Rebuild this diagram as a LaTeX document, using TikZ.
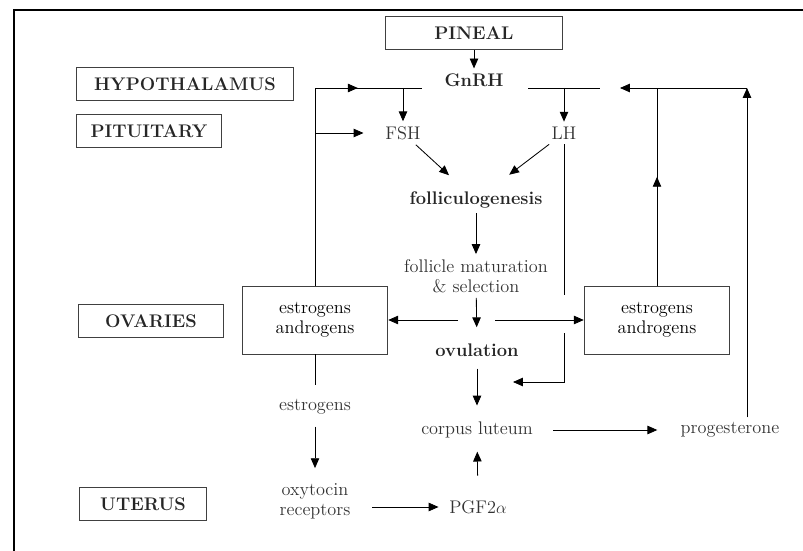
\documentclass[tikz,border=0pt]{standalone}
\usetikzlibrary{arrows.meta}
\usetikzlibrary{decorations.markings}

\newcommand{\diagfont}{\fontsize{13}{14.5}\selectfont}

\tikzset{
  arr/.style={-{Triangle[length=7pt,width=6pt]}},
  midarrow/.style={postaction={decorate},
    decoration={markings, mark=at position #1 with {\arrow{Triangle[length=7pt,width=6pt]}}}},
  organ/.style={draw=black!75, font=\diagfont\bfseries, text=black!85, minimum height=0.84cm},
  ovbox/.style={draw=black!75, align=center, minimum width=3.64cm, minimum height=1.7cm},
  hormone/.style={text=black!80, align=center},
  stage/.style={font=\diagfont\bfseries, text=black!85}
}

\begin{document}
\begin{tikzpicture}[x=0.025cm, y=-0.025cm, line width=0.6pt, font=\diagfont]
\useasboundingbox (0,0) rectangle (803,551);
\draw[line width=2pt] (14,551) -- (14,10) -- (803,10);

% organs
\node[organ, minimum width=4.43cm] (pineal) at (474,33) {PINEAL};
\node[organ, minimum width=5.43cm] (hypo) at (185,84) {HYPOTHALAMUS};
\node[organ, minimum width=3.63cm] (pit) at (149,131) {PITUITARY};
\node[organ, minimum width=3.63cm] (ova) at (151,321) {OVARIES};
\node[organ, minimum width=3.18cm] (ute) at (143,504) {UTERUS};

% hormones and stages
\node[stage] (gnrh) at (474,80) {GnRH};
\node[hormone] (fsh) at (403,133) {FSH};
\node[hormone] (lh) at (564,133) {LH};
\node[stage] (fol) at (476,200) {folliculogenesis};
\node[hormone] (mat) at (476,276) {follicle maturation\\\& selection};
\node[stage] (ovu) at (477,350) {ovulation};
\node[hormone] (cl) at (477,430) {corpus luteum};
\node[hormone] (prog) at (730,430) {progesterone};
\node[hormone] (pgf) at (478,507) {PGF2$\alpha$};
\node[ovbox] (esl) at (315,320) {estrogens\\androgens};
\node[ovbox] (esr) at (657,320) {estrogens\\androgens};
\node[hormone] (estr) at (315,407) {estrogens};
\node[hormone] (oxy) at (315,501) {oxytocin\\receptors};

% junctions
\coordinate (hl) at (315,88);
\coordinate (hr) at (422,88);
\coordinate (hf) at (403,88);
\coordinate (pl) at (315,133);
\coordinate (rl) at (528,88);
\coordinate (rr) at (600,88);
\coordinate (hlh) at (564,88);
\coordinate (fbt) at (620,88);
\coordinate (fbj) at (657,88);
\coordinate (fbc) at (747,88);
\coordinate (lha) at (564,295);
\coordinate (lhb) at (564,333);
\coordinate (lhc) at (564,382);
\coordinate (lht) at (513,382);
\coordinate (ml) at (458,320);
\coordinate (mr) at (495,320);

\draw[arr] (pineal) -- (gnrh);
\draw (esl) -- (hl);
\draw[midarrow=0.4] (hl) -- (hr);
\draw[arr] (hf) -- (fsh);
\draw[arr, shorten >=12pt] (pl) -- (fsh);
\draw (rl) -- (rr);
\draw[arr] (hlh) -- (lh);
\draw[midarrow=0.55] (esr) -- (fbj);
\draw[arr] (prog.north -| fbc) -- (fbc);
\draw[arr] (fbc) -- (fbt);

\draw[arr, shorten >=12pt] (fsh) -- (fol);
\draw[arr, shorten >=14pt] (lh) -- (fol);
\draw (lh) -- (lha);
\draw[arr] (lhb) -- (lhc) -- (lht);
\draw[arr] (fol) -- (mat);
\draw[arr, shorten >=8pt] (mat) -- (ovu);
\draw[arr] (ml) -- (esl);
\draw[arr] (mr) -- (esr);
\draw[arr, shorten <=5pt, shorten >=8pt] (ovu) -- (cl);
\draw[arr, shorten <=11pt, shorten >=13pt] (cl) -- (prog);
\draw[arr, shorten <=14pt, shorten >=6pt] (pgf) -- (cl);
\draw[arr, shorten <=12pt, shorten >=4pt] (oxy.east |- pgf) -- (pgf);
\draw[shorten >=7pt] (esl) -- (estr);
\draw[arr, shorten <=5pt, shorten >=7pt] (estr) -- (oxy);
\end{tikzpicture}
\end{document}
